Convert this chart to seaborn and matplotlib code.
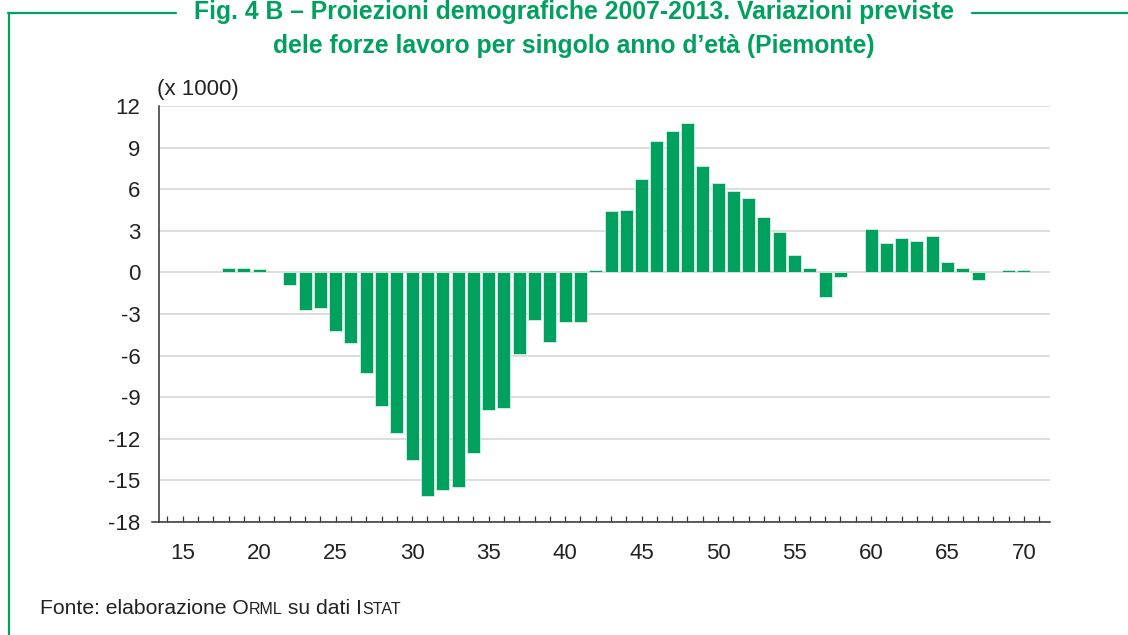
import pandas as pd
import matplotlib
matplotlib.use('Agg')
import matplotlib.pyplot as plt
import seaborn as sns
from matplotlib.lines import Line2D

# età (anni) e variazione prevista delle forze lavoro (migliaia)
eta = list(range(14, 72))
variazione = [
    0.0, 0.0, 0.0, 0.0, 0.3, 0.35, 0.25, 0.0, -0.9, -2.7,      # 14-23
    -2.55, -4.25, -5.1, -7.25, -9.6, -11.6, -13.5, -16.15, -15.7, -15.5,  # 24-33
    -13.0, -9.95, -9.75, -5.85, -3.45, -5.05, -3.55, -3.6, 0.2, 4.4,  # 34-43
    4.5, 6.7, 9.45, 10.2, 10.8, 7.65, 6.45, 5.85, 5.4, 4.0,    # 44-53
    2.9, 1.25, 0.3, -1.75, -0.3, 0.0, 3.15, 2.15, 2.5, 2.3,    # 54-63
    2.6, 0.75, 0.35, -0.55, 0.0, 0.2, 0.2, 0.0,                # 64-71
]
y_ticks = list(range(-18, 13, 3))
x_labels = [15, 20, 25, 30, 35, 40, 45, 50, 55, 60, 65, 70]

titolo_1 = 'Fig. 4 B \u2013 Proiezioni demografiche 2007-2013. Variazioni previste'
titolo_2 = 'dele forze lavoro per singolo anno d\u2019et\u00e0 (Piemonte)'

verde = '#00a05e'
grigio = '#d3d3d3'
scuro = '#333333'
testo_col = '#222222'

sns.set_theme(style='white')
plt.rcParams['font.family'] = ['Liberation Sans', 'DejaVu Sans']
plt.rcParams['axes.unicode_minus'] = False

df = pd.DataFrame({'eta': eta, 'variazione': variazione})

W, H = 1128, 635
fig = plt.figure(figsize=(11.28, 6.35), dpi=100)
ax = fig.add_axes([159 / W, 1 - 522 / H, (1050 - 159) / W, (522 - 106) / H])

sns.barplot(data=df, x='eta', y='variazione', native_scale=True, width=0.85,
            color=verde, saturation=1, edgecolor='#d8f0e4', linewidth=0.6,
            ax=ax, zorder=3)
# niente bordo per le età senza variazione
for p in ax.patches:
    if p.get_height() == 0:
        p.set_visible(False)

ax.set_xlim(13.45, 71.7)
ax.set_ylim(-18, 12)
ax.set_yticks(y_ticks)
ax.set_yticklabels([str(v) for v in y_ticks])
ax.set_xticks(eta)
ax.set_xticklabels([str(a) if a in x_labels else '' for a in eta])
ax.set_xlabel('')
ax.set_ylabel('')

ax.yaxis.grid(True, color=grigio, linewidth=1.1, zorder=0)
ax.set_axisbelow(True)
for s in ['top', 'right']:
    ax.spines[s].set_visible(False)
ax.spines['left'].set_color(scuro)
ax.spines['left'].set_linewidth(1.1)
ax.spines['bottom'].set_color(scuro)
ax.spines['bottom'].set_linewidth(1.1)
ax.spines['bottom'].set_bounds(12.99, 71.7)

ax.tick_params(axis='y', direction='out', length=5, width=1.1, color=grigio,
               pad=8.5, labelsize=16, labelcolor=testo_col)
ax.tick_params(axis='x', direction='in', length=4.5, width=0.9, color=scuro,
               pad=15, labelsize=16, labelcolor=testo_col, bottom=True)

fig.text(157 / W, 1 - 89 / H, '(x 1000)', fontsize=16, color=testo_col,
         ha='left', va='center')

# titolo
fig.text(574 / W, 1 - 19 / H, titolo_1, fontsize=17.8, fontweight='bold',
         color=verde, ha='center', va='baseline')
fig.text(574 / W, 1 - 53 / H, titolo_2, fontsize=17.8, fontweight='bold',
         color=verde, ha='center', va='baseline')

# cornice verde
for xs, ys in [((8, 176), (13, 13)), ((972, 1128), (13, 13)), ((9, 9), (13, 635))]:
    fig.add_artist(Line2D([x / W for x in xs], [1 - y / H for y in ys],
                          color=verde, linewidth=1.6, transform=fig.transFigure))

# fonte con maiuscoletto
parti = [('Fonte: elaborazione O', 15.2), ('RML', 11.5), (' su dati I', 15.2), ('STAT', 11.5)]
fig.canvas.draw()
r = fig.canvas.get_renderer()
x_pos = 40
for testo, dim in parti:
    t = fig.text(x_pos / W, 1 - 614 / H, testo, fontsize=dim, color=testo_col,
                 ha='left', va='baseline')
    x_pos = t.get_window_extent(r).x1

fig.savefig('out.png', dpi=100)
